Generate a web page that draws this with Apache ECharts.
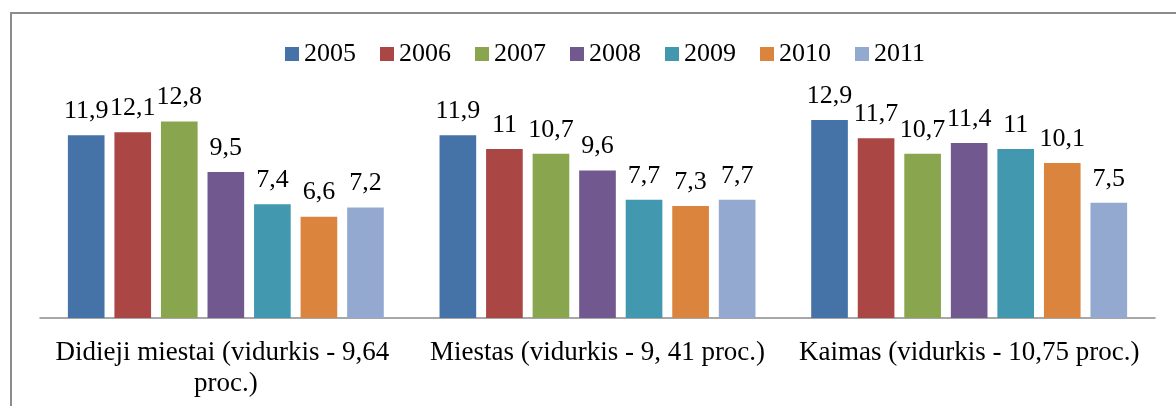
<!DOCTYPE html>
<html>
<head>
<meta charset="utf-8">
<script src="https://cdn.jsdelivr.net/npm/echarts@6/dist/echarts.min.js"></script>
<style>
  html, body { margin: 0; padding: 0; background: #fff; }
  #chart { width: 1176px; height: 406px; }
</style>
</head>
<body>
<div id="chart"></div>
<script>
const categories = [
  'Didieji miestai (vidurkis - 9,64 proc.)',
  'Miestas (vidurkis - 9, 41 proc.)',
  'Kaimas (vidurkis - 10,75 proc.)'
]
const years = ['2005', '2006', '2007', '2008', '2009', '2010', '2011']
// one array per year: [Didieji miestai, Miestas, Kaimas]
const values2005 = [11.9, 11.9, 12.9]
const values2006 = [12.1, 11, 11.7]
const values2007 = [12.8, 10.7, 10.7]
const values2008 = [9.5, 9.6, 11.4]
const values2009 = [7.4, 7.7, 11]
const values2010 = [6.6, 7.3, 10.1]
const values2011 = [7.2, 7.7, 7.5]
const seriesValues = [values2005, values2006, values2007, values2008, values2009, values2010, values2011]
const colors = ['#4572A7', '#AA4643', '#89A54E', '#71588F', '#4198AF', '#DB843D', '#93A9CF']

const font = "'Liberation Serif', 'Times New Roman', serif"
const chart = echarts.init(document.getElementById('chart'))

chart.setOption({
  animation: false,
  textStyle: { fontFamily: font },
  graphic: [{
    type: 'rect',
    shape: { x: 11, y: 13, width: 1300, height: 500 },
    style: { fill: 'none', stroke: '#8c8c8c', lineWidth: 2 },
    silent: true
  }],
  legend: {
    left: 280,
    top: 36,
    itemWidth: 14,
    itemHeight: 14,
    itemGap: 24,
    icon: 'rect',
    textStyle: { fontFamily: font, fontSize: 26, color: '#000' },
    data: years
  },
  grid: { top: 103, bottom: 88, left: 40, right: 21 },
  xAxis: {
    type: 'category',
    data: categories,
    axisLine: { lineStyle: { color: '#8a8a8a', width: 1.5 } },
    axisTick: { show: false },
    axisLabel: {
      interval: 0,
      margin: 19,
      width: 365,
      overflow: 'break',
      lineHeight: 31,
      fontFamily: font,
      fontSize: 27,
      color: '#000'
    }
  },
  yAxis: {
    type: 'value',
    min: 0,
    max: 14,
    show: false,
    splitLine: { show: false }
  },
  series: years.map((year, i) => ({
    name: year,
    type: 'bar',
    data: seriesValues[i],
    barGap: '27%',
    barCategoryGap: '15%',
    itemStyle: { color: colors[i] },
    label: {
      show: true,
      position: 'top',
      distance: 11,
      fontFamily: font,
      fontSize: 26,
      color: '#000',
      formatter: (p) => String(p.value).replace('.', ',')
    }
  }))
})
</script>
</body>
</html>
